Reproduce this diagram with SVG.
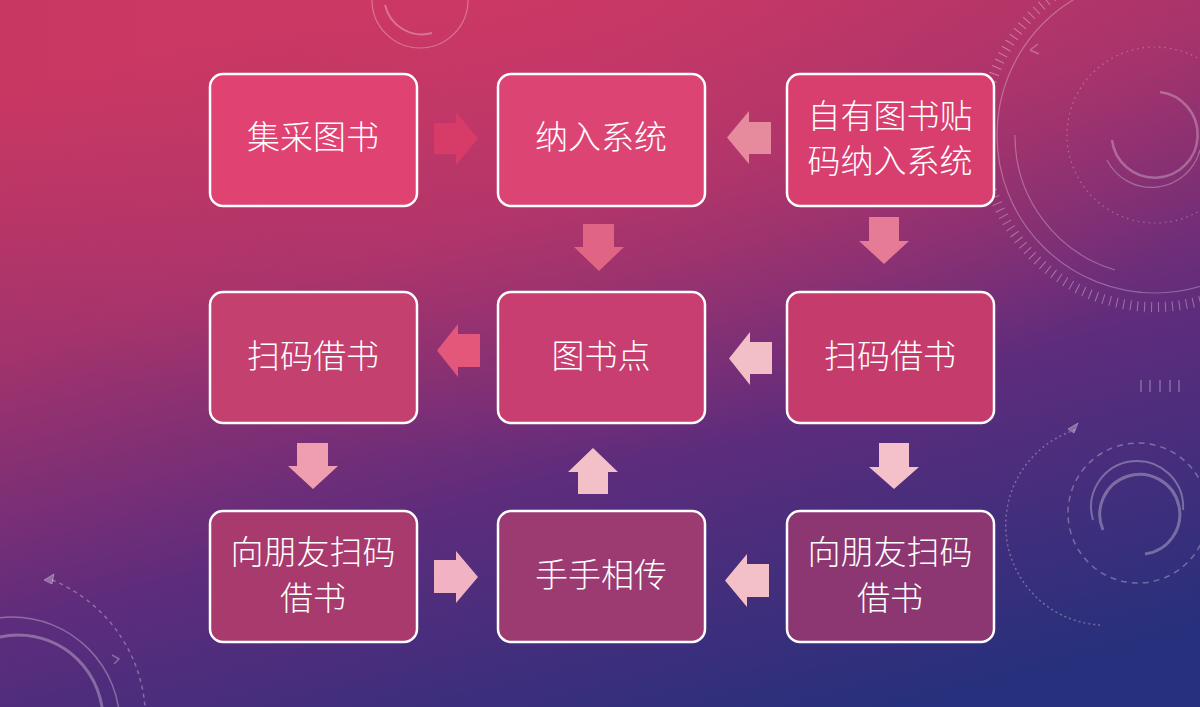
<svg xmlns="http://www.w3.org/2000/svg" width="1200" height="707" viewBox="0 0 1200 707">
<defs>
<linearGradient id="bg" x1="0.3" y1="0" x2="0.75" y2="1">
<stop offset="0" stop-color="#c63762"/>
<stop offset="0.3" stop-color="#a4336c"/>
<stop offset="0.62" stop-color="#5f2c7c"/>
<stop offset="1" stop-color="#27307c"/>
</linearGradient>
<radialGradient id="glow" cx="0.45" cy="0.05" r="0.6">
<stop offset="0" stop-color="#d63a66" stop-opacity="0.5"/>
<stop offset="1" stop-color="#d63a66" stop-opacity="0"/>
</radialGradient>
<style>
.node rect{stroke:#ffffff;stroke-width:2.5}
.node text{font-family:"Noto Sans CJK SC","Noto Sans CJK JP",sans-serif;font-size:33px;font-weight:300;fill:#ffffff;text-anchor:middle}
.deco{fill:none;stroke:#ffffff}
</style>
</defs>
<rect width="1200" height="707" fill="url(#bg)"/>
<rect width="1200" height="707" fill="url(#glow)"/>
<g id="decorations" class="deco">
<g stroke-opacity="0.28">
<circle cx="1155" cy="135" r="158" stroke-width="1.2"/>
<path d="M1015,135 A140,140 0 0 0 1115,270" stroke-width="1.2"/>
<circle cx="1155" cy="135" r="88" stroke-width="1.2" stroke-dasharray="1.5 4"/>
<path d="M1112,140 A43,43 0 1 0 1160,92" stroke-width="2.5"/>
<path d="M1107,160 A50,50 0 0 0 1200,150" stroke-width="1.2"/>
<circle cx="1155" cy="135" r="172" stroke-width="10" stroke-dasharray="1 6" stroke-opacity="0.35"/>
<path d="M1030,50 l8,-6 M1030,50 l9,4" stroke-width="1.5"/>
</g>
<g stroke-opacity="0.3">
<path d="M1103,530 A40,40 0 1 1 1145,554" stroke-width="3"/>
<path d="M1093,520 A46,46 0 1 1 1183,510" stroke-width="2"/>
<circle cx="1138" cy="513" r="70" stroke-width="1.5" stroke-dasharray="6 5"/>
<path d="M1075,430 A100,100 0 0 0 1100,625" stroke-width="1.5" stroke-dasharray="2 3"/>
<path d="M1078,423 l-10,6 l6,4 z" fill="#ffffff" fill-opacity="0.3"/>
<path d="M1141,380 v12 M1150,380 v12 M1160,380 v12 M1170,380 v12 M1179,380 v12" stroke-width="1.5"/>
</g>
<g stroke-opacity="0.3">
<circle cx="18" cy="720" r="85" stroke-width="3"/>
<circle cx="12" cy="725" r="108" stroke-width="1.5"/>
<path d="M52,580 A150,150 0 0 1 145,707" stroke-width="1.5" stroke-dasharray="4 4"/>
<path d="M44,580 l10,-6 l-2,10 z" fill="#ffffff" fill-opacity="0.3"/>
<path d="M112,655 l7,4 l-5,5" stroke-width="1.5"/>
</g>
<g stroke-opacity="0.3">
<path d="M385,5 A38,38 0 0 0 432,33" stroke-width="2"/>
<circle cx="420" cy="0" r="48" stroke-width="1.2"/>
</g>
</g>
<g id="connectors">
<polygon points="434,123 456,123 456,112 478,138.5 456,165 456,154 434,154" fill="#d73c68"/>
<polygon points="771,122 749,122 749,111 727,137.5 749,164 749,154 771,154" fill="#e68a9e"/>
<polygon points="583,224 614,224 614,247 624,247 599,271 574,247 583,247" fill="#e06585"/>
<polygon points="869,217 899,217 899,241 909,241 884,264 859,241 869,241" fill="#e57b95"/>
<polygon points="480,334 458,334 458,324 437,350.5 458,377 458,367 480,367" fill="#e2577a"/>
<polygon points="772,342 750,342 750,332 729,358.5 750,385 750,374 772,374" fill="#f2bfc7"/>
<polygon points="297,443 328,443 328,466 338,466 313,489 288,466 297,466" fill="#ee9eae"/>
<polygon points="879,443 909,443 909,467 919,467 894,489 869,467 879,467" fill="#f4c0c9"/>
<polygon points="434,560 456,560 456,551 478,577 456,603 456,593 434,593" fill="#f1b3c3"/>
<polygon points="578,494 608,494 608,472 618,472 593,448 568,472 578,472" fill="#f3c0c8"/>
<polygon points="769,564 747,564 747,554 725,580.5 747,607 747,597 769,597" fill="#f3c0c8"/>
</g>
<g id="n1" class="node"><rect x="210" y="74" width="207" height="132" rx="13" fill="#e04272"/><text x="313" y="149">集采图书</text></g>
<g id="n2" class="node"><rect x="498" y="74" width="207" height="132" rx="13" fill="#dc4474"/><text x="601" y="149">纳入系统</text></g>
<g id="n3" class="node"><rect x="787" y="74" width="207" height="132" rx="13" fill="#d83e6e"/><text x="890" y="128">自有图书贴</text><text x="890" y="173">码纳入系统</text></g>
<g id="n4" class="node"><rect x="210" y="292" width="207" height="131" rx="13" fill="#c4406e"/><text x="313" y="368">扫码借书</text></g>
<g id="n5" class="node"><rect x="498" y="292" width="207" height="131" rx="13" fill="#c83e70"/><text x="601" y="368">图书点</text></g>
<g id="n6" class="node"><rect x="787" y="292" width="207" height="131" rx="13" fill="#c53c6c"/><text x="890" y="368">扫码借书</text></g>
<g id="n7" class="node"><rect x="210" y="511" width="207" height="131" rx="13" fill="#a83a6e"/><text x="313" y="564">向朋友扫码</text><text x="313" y="610">借书</text></g>
<g id="n8" class="node"><rect x="498" y="511" width="207" height="131" rx="13" fill="#9c3a72"/><text x="601" y="587">手手相传</text></g>
<g id="n9" class="node"><rect x="787" y="511" width="207" height="131" rx="13" fill="#8c3672"/><text x="890" y="564">向朋友扫码</text><text x="890" y="610">借书</text></g>
</svg>
